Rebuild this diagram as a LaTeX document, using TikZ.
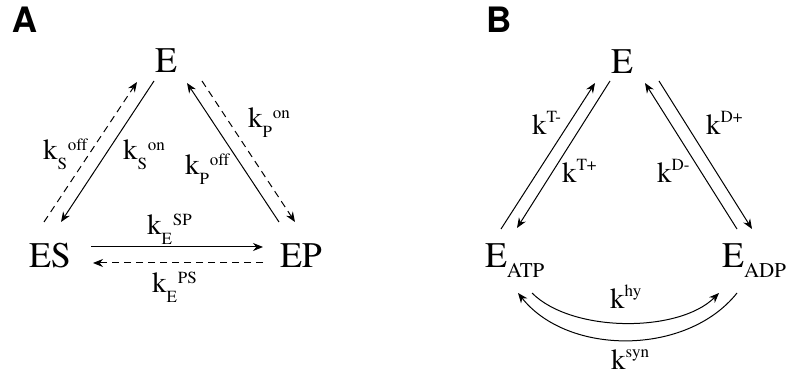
\documentclass[tikz,border=0pt]{standalone}
\usepackage[T1]{fontenc}
\renewcommand{\rmdefault}{ptm}
\renewcommand{\sfdefault}{phv}
\usetikzlibrary{arrows.meta,calc}
\newcommand{\rsz}{\fontsize{17}{17}\selectfont}
\newcommand{\rateA}[2]{k\raisebox{-10pt}{\rsz #1}\hspace{1pt}\raisebox{9pt}{\rsz #2}}
\newcommand{\rateB}[1]{k\raisebox{12pt}{\rsz #1}}
\newcommand{\Esub}[1]{E\raisebox{-10pt}{\fontsize{21}{21}\selectfont #1}}

\begin{document}
\begin{tikzpicture}[x=1pt,y=-1pt,
  every node/.style={anchor=base west,inner sep=0pt,outer sep=0pt},
  st/.style={font=\rmfamily\fontsize{36}{40}\selectfont},
  rt/.style={font=\rmfamily\fontsize{29}{32}\selectfont},
  pl/.style={font=\sffamily\bfseries\fontsize{35}{38}\selectfont},
  arr/.style={-{Stealth[length=10pt,width=8pt]},line width=1pt},
  dsh/.style={arr,dash pattern=on 7pt off 5pt}
]
  \useasboundingbox (0,0) rectangle (788,379);

  % panel A
  \node[pl] (pA) at (12,33) {A};
  \node[st] (eA) at (155,73) {E};
  \node[st] (es) at (29,268) {ES};
  \node[st] (ep) at (280,268) {EP};
  \draw[arr] ($(eA.base west)+(-1,8)$) -- ($(es.base west)+(32,-46)$);
  \draw[dsh] ($(es.base west)+(15,-46)$) -- ($(eA.base west)+(-18,9)$);
  \draw[arr] ($(ep.base west)+(-1,-46)$) -- ($(eA.base west)+(32,10)$);
  \draw[dsh] ($(eA.base west)+(47,8)$) -- ($(ep.base west)+(15,-46)$);
  \draw[arr] ($(es.base west)+(62,-21)$) -- ($(ep.base west)+(-17,-21)$);
  \draw[dsh] ($(ep.base west)+(-17,-5)$) -- ($(es.base west)+(64,-5)$);
  \node[rt] (ksoff) at (43,160) {\rateA{S}{off}};
  \node[rt] (kson) at (123,160) {\rateA{S}{on}};
  \node[rt] (kpon) at (248,128) {\rateA{P}{on}};
  \node[rt] (kpoff) at (185,175) {\rateA{P}{off}};
  \node[rt] (kesp) at (147,235) {\rateA{E}{SP}};
  \node[rt] (keps) at (152,293) {\rateA{E}{PS}};

  % panel B
  \node[pl] (pB) at (486,33) {B};
  \node[st] (eB) at (611,74) {E};
  \node[st] (eatp) at (485,268) {\Esub{ATP}};
  \node[st] (eadp) at (722,268) {\Esub{ADP}};
  \draw[arr] ($(eatp.base west)+(16,-39)$) -- ($(eB.base west)+(-16,9)$);
  \draw[arr] ($(eB.base west)+(-1,7)$) -- ($(eatp.base west)+(32,-40)$);
  \draw[arr] ($(eadp.base west)+(15,-39)$) -- ($(eB.base west)+(34,9)$);
  \draw[arr] ($(eB.base west)+(48,7)$) -- ($(eadp.base west)+(30,-39)$);
  \draw[arr] ($(eatp.base west)+(47,25)$)
    .. controls ($(eatp.base west)+(87,65)$) and ($(eadp.base west)+(-43,65)$)
    .. ($(eadp.base west)+(-3,25)$);
  \draw[arr] ($(eadp.base west)+(15,25)$)
    .. controls ($(eadp.base west)+(-35,88)$) and ($(eatp.base west)+(83,88)$)
    .. ($(eatp.base west)+(33,25)$);
  \node[rt] (ktm) at (532,135) {\rateB{T-}};
  \node[rt] (ktp) at (562,183) {\rateB{T+}};
  \node[rt] (kdp) at (706,135) {\rateB{D+}};
  \node[rt] (kdm) at (657,183) {\rateB{D-}};
  \node[rt] (khy) at (610,309) {\rateB{hy}};
  \node[rt] (ksyn) at (611,370) {\rateB{syn}};
\end{tikzpicture}
\end{document}
